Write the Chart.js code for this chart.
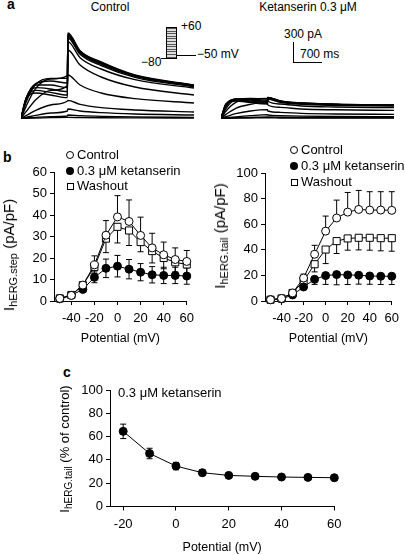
<!DOCTYPE html>
<html>
<head>
<meta charset="utf-8">
<script src="https://cdn.jsdelivr.net/npm/chart.js@4.4.0/dist/chart.umd.min.js"></script>
<style>
  body { margin: 0; background: #fff; }
  #fig { position: relative; width: 405px; height: 555px; overflow: hidden; font-family: "Liberation Sans", Arial, sans-serif; color: #000; }
  #fig canvas { position: absolute; }
  .t { position: absolute; white-space: nowrap; font-size: 12px; line-height: 14px; }
  .t13 { font-size: 13px; line-height: 14px; }
  .lbl { position: absolute; font-weight: bold; font-size: 14px; line-height: 16px; }
  .ytitle { position: absolute; white-space: nowrap; font-size: 13px; line-height: 14px; transform: translate(-50%, -50%) rotate(-90deg); }
  .ytitle sub { font-size: 10px; vertical-align: -3px; }
  .big { font-size: 15px; line-height: 16px; }
  .big sub { font-size: 11px; }
  .mk { position: absolute; box-sizing: border-box; }
  .line { position: absolute; background: #000; }
</style>
</head>
<body>
<div id="fig">
  <div class="lbl" style="left:7px;top:-4px">a</div>
  <div class="lbl" style="left:3px;top:149px">b</div>
  <div class="lbl" style="left:63px;top:364px">c</div>

  <div class="t" style="left:110px;top:0px;transform:translateX(-50%)">Control</div>
  <div class="t" style="left:308px;top:0px;transform:translateX(-50%)">Ketanserin 0.3 μM</div>

  <!-- voltage protocol inset -->
  <div class="t" style="left:181px;top:19px">+60</div>
  <div class="t" style="left:197px;top:47px">−50 mV</div>
  <div class="t" style="left:141px;top:55px">−80</div>
  <div style="position:absolute;left:166px;top:27px;width:11px;height:32px;box-sizing:border-box;border:1px solid #000;background:repeating-linear-gradient(to bottom,#555 0px,#555 1px,#ddd 1px,#ddd 2.6px)"></div>
  <div class="line" style="left:161px;top:58px;width:6px;height:1px"></div>
  <div class="line" style="left:176px;top:55px;width:20px;height:1px"></div>

  <!-- scale bar -->
  <div class="t" style="left:284px;top:27px">300 pA</div>
  <div class="t" style="left:300px;top:47px">700 ms</div>
  <div class="line" style="left:293px;top:42px;width:1px;height:21px"></div>
  <div class="line" style="left:293px;top:62px;width:29px;height:1px"></div>

  <canvas id="traceCtl" style="left:21px;top:25px" width="173" height="100"></canvas>
  <canvas id="traceKet" style="left:221px;top:25px" width="173" height="100"></canvas>

  <canvas id="stepChart" style="left:0px;top:140px" width="200" height="206"></canvas>
  <canvas id="tailChart" style="left:205px;top:140px" width="200" height="206"></canvas>
  <canvas id="ratioChart" style="left:40px;top:370px" width="320" height="185"></canvas>

  <div class="ytitle big" style="left:11px;top:255px">I<sub>hERG.step</sub> (pA/pF)</div>
  <div class="ytitle big" style="left:222px;top:236px">I<sub>hERG.tail</sub> (pA/pF)</div>
  <div class="ytitle" style="left:67px;top:449px">I<sub>hERG.tail</sub> (% of control)</div>

  <div id="legendStep"></div>
  <div id="legendTail"></div>
  <div class="t t13" style="left:118px;top:386px">0.3 μM ketanserin</div>
</div>

<script>
// ---- data ----
const seriesNames = ["Control", "0.3 μM ketanserin", "Washout"];
const potentials = [-50, -40, -30, -20, -10, 0, 10, 20, 30, 40, 50, 60];
const potentialTicks = [-40, -20, 0, 20, 40, 60];

// panel b, step current (pA/pF)
const stepControl = [1.2, 2.6, 7.4, 16.8, 30.6, 39.1, 37.0, 30.5, 24.7, 21.5, 19.3, 18.4];
const stepControlErr = [0, 0, 0, 4.2, 6.8, 9.9, 10.0, 8.5, 6.8, 5.9, 5.4, 5.1];
const stepKet = [1.0, 2.6, 5.4, 11.0, 15.2, 16.2, 14.8, 13.4, 12.2, 11.9, 11.9, 11.6];
const stepKetErr = [0, 0, 0.8, 2.5, 4.3, 5.0, 4.5, 4.0, 3.8, 3.8, 3.8, 3.8];
const stepWash = [1.2, 2.8, 7.4, 15.8, 29.0, 34.5, 32.8, 27.4, 23.2, 20.0, 18.0, 17.0];
const stepWashErr = [0, 0, 0, 3.0, 6.5, 7.5, 7.0, 4.5, 5.5, 5.0, 4.5, 4.5];
const stepTicks = [0, 10, 20, 30, 40, 50, 60];

// panel b, tail current (pA/pF)
const tailControl = [1.0, 2.0, 6.3, 18.0, 36.6, 54.7, 65.0, 69.6, 71.7, 71.2, 71.2, 71.0];
const tailControlErr = [0, 0, 0.5, 3.0, 7.0, 11.8, 14.0, 15.4, 14.9, 14.4, 14.4, 14.6];
const tailKet = [1.0, 1.6, 4.7, 11.0, 17.0, 19.9, 20.7, 20.4, 20.2, 19.6, 19.4, 19.4];
const tailKetErr = [0, 0, 0.5, 2.0, 4.0, 6.9, 8.0, 7.5, 7.0, 6.5, 6.5, 6.5];
const tailWash = [1.0, 2.0, 6.3, 15.7, 28.8, 40.3, 46.9, 49.0, 49.5, 49.5, 49.2, 49.2];
const tailWashErr = [0, 0, 0.5, 3.0, 6.0, 11.0, 9.7, 9.2, 9.5, 9.7, 9.9, 10.2];
const tailTicks = [0, 20, 40, 60, 80, 100];

// panel c, % of control
const ratioPotentials = [-20, -10, 0, 10, 20, 30, 40, 50, 60];
const ratioKet = [64.5, 45.5, 34.7, 29.0, 26.7, 25.9, 25.3, 25.0, 24.7];
const ratioKetErr = [6.2, 4.5, 3.2, 2.5, 1.8, 1.5, 1.4, 1.3, 1.3];
const ratioXTicks = [-20, 0, 20, 40, 60];
const ratioYTicks = [0, 20, 40, 60, 80, 100];

// panel a, current traces (pA) sampled at these times (ms), one row per test potential -50..+60 mV
const traceTimes = [0, 120, 350, 700, 1100, 1110, 1400, 1900, 2700, 4100];
const controlTraces = [
  [0, 2, 5, 10, 15, 15, 12, 9, 7, 5],
  [0, 5, 15, 25, 35, 50, 40, 30, 22, 15],
  [0, 15, 45, 80, 110, 140, 110, 85, 65, 50],
  [0, 40, 120, 200, 260, 270, 210, 160, 125, 95],
  [0, 100, 280, 420, 490, 650, 500, 380, 295, 230],
  [0, 180, 450, 590, 640, 1025, 800, 620, 470, 350],
  [0, 240, 510, 600, 600, 1150, 910, 740, 580, 455],
  [0, 280, 520, 560, 530, 1205, 960, 790, 615, 470],
  [0, 300, 500, 500, 460, 1230, 980, 810, 630, 480],
  [0, 300, 460, 440, 400, 1250, 995, 825, 640, 490],
  [0, 290, 420, 390, 350, 1265, 1005, 835, 645, 495],
  [0, 280, 380, 350, 310, 1280, 1015, 845, 650, 500]
];
const ketTraces = [
  [0, 1, 3, 5, 8, 8, 6, 5, 4, 3],
  [0, 3, 8, 14, 20, 20, 16, 13, 11, 10],
  [0, 8, 22, 40, 55, 50, 40, 33, 28, 25],
  [0, 25, 70, 110, 130, 110, 90, 75, 65, 60],
  [0, 60, 150, 210, 240, 200, 165, 140, 128, 120],
  [0, 110, 240, 290, 300, 260, 215, 185, 170, 160],
  [0, 150, 280, 300, 290, 290, 240, 210, 195, 185],
  [0, 180, 290, 290, 270, 300, 250, 220, 203, 192],
  [0, 200, 290, 275, 255, 305, 255, 225, 207, 196],
  [0, 210, 280, 260, 240, 310, 258, 228, 210, 198],
  [0, 215, 270, 245, 225, 312, 260, 230, 212, 199],
  [0, 220, 260, 235, 215, 315, 262, 232, 213, 200]
];

Chart.defaults.font.family = '"Liberation Sans", Arial, sans-serif';
Chart.defaults.font.size = 13;
Chart.defaults.color = "#000";
Chart.defaults.animation = false;

// error bars drawn under the markers, using the chart's own y scale
const errorBars = {
  id: "errorBars",
  beforeDatasetsDraw(chart) {
    const ctx = chart.ctx;
    const yScale = chart.scales.y;
    chart.data.datasets.forEach((ds, di) => {
      if (!ds.errUp && !ds.errDown) return;
      const meta = chart.getDatasetMeta(di);
      ctx.save();
      ctx.strokeStyle = "#000";
      ctx.lineWidth = 1;
      meta.data.forEach((pt, i) => {
        const v = ds.data[i].y;
        [[ds.errUp, 1], [ds.errDown, -1]].forEach(([arr, sign]) => {
          if (!arr || !arr[i]) return;
          const yEnd = yScale.getPixelForValue(v + sign * arr[i]);
          ctx.beginPath();
          ctx.moveTo(pt.x, pt.y);
          ctx.lineTo(pt.x, yEnd);
          ctx.moveTo(pt.x - 3, yEnd);
          ctx.lineTo(pt.x + 3, yEnd);
          ctx.stroke();
        });
      });
      ctx.restore();
    });
  }
};

function axis(min, max, tickValues, size, isX, title) {
  return {
    type: "linear",
    min: min,
    max: max,
    afterBuildTicks: s => { s.ticks = tickValues.map(v => ({ value: v })); },
    afterFit: s => { if (isX) s.height = size; else s.width = size; },
    grid: { display: true, drawOnChartArea: false, drawTicks: true, tickLength: 4, color: "#000", lineWidth: 1 },
    border: { display: true, color: "#000", width: 1 },
    ticks: { padding: isX ? 6 : 3, autoSkip: false, maxRotation: 0 },
    title: title ? { display: true, text: title, padding: 0, font: { size: 12.5 } } : { display: false }
  };
}

function series(xs, ys, style, errUp, errDown) {
  return Object.assign({
    data: xs.map((x, i) => ({ x: x, y: ys[i] })),
    showLine: true,
    clip: false,
    borderColor: "#000",
    borderWidth: 1,
    pointBorderColor: "#000",
    pointBorderWidth: 1,
    errUp: errUp,
    errDown: errDown
  }, style);
}

const openCircle = { pointStyle: "circle", pointRadius: 4, pointBackgroundColor: "#fff" };
const filledCircle = { pointStyle: "circle", pointRadius: 4, pointBackgroundColor: "#000" };
const openSquare = { pointStyle: "rect", pointRadius: 5, pointBackgroundColor: "#fff" };

function ivChart(id, datasets, yMin, yMax, yTicks, yWidth, pad) {
  return new Chart(document.getElementById(id), {
    type: "scatter",
    data: { datasets: datasets },
    options: {
      responsive: false,
      layout: { padding: pad },
      plugins: { legend: { display: false }, tooltip: { enabled: false } },
      scales: {
        x: axis(-55, 60, potentialTicks, 45, true, "Potential (mV)"),
        y: axis(yMin, yMax, yTicks, yWidth, false, null)
      }
    },
    plugins: [errorBars]
  });
}

ivChart("stepChart", [
  series(potentials, stepControl, openCircle, stepControlErr, null),
  series(potentials, stepKet, filledCircle, stepKetErr, stepKetErr),
  series(potentials, stepWash, openSquare, null, stepWashErr)
], 0, 60, stepTicks, 54, { left: 0, top: 32, right: 10.7, bottom: 0 });

ivChart("tailChart", [
  series(potentials, tailControl, openCircle, tailControlErr, null),
  series(potentials, tailKet, filledCircle, null, tailKetErr),
  series(potentials, tailWash, openSquare, null, tailWashErr)
], 0, 100, tailTicks, 60, { left: 0, top: 33.3, right: 5.7, bottom: 0 });

new Chart(document.getElementById("ratioChart"), {
  type: "scatter",
  data: { datasets: [series(ratioPotentials, ratioKet, filledCircle, ratioKetErr, ratioKetErr)] },
  options: {
    responsive: false,
    layout: { padding: { left: 0, top: 20, right: 25.7, bottom: 0 } },
    plugins: { legend: { display: false }, tooltip: { enabled: false } },
    scales: {
      x: axis(-25, 60, ratioXTicks, 48.5, true, "Potential (mV)"),
      y: axis(0, 100, ratioYTicks, 70, false, null)
    }
  },
  plugins: [errorBars]
});

// current traces, axes hidden
function traceChart(id, traces) {
  return new Chart(document.getElementById(id), {
    type: "line",
    data: {
      datasets: traces.map(tr => ({
        data: traceTimes.map((t, i) => ({ x: t, y: tr[i] })),
        borderColor: "#000",
        borderWidth: 1.4,
        pointRadius: 0,
        cubicInterpolationMode: "monotone",
        clip: false
      }))
    },
    options: {
      responsive: false,
      layout: { padding: 0 },
      plugins: { legend: { display: false }, tooltip: { enabled: false } },
      scales: {
        x: { type: "linear", min: 0, max: 4100, display: false },
        y: { type: "linear", min: -100, max: 1400, display: false }
      }
    }
  });
}
traceChart("traceCtl", controlTraces);
traceChart("traceKet", ketTraces);

// legends
function legend(el, x, rows) {
  const marks = [
    "width:8px;height:8px;border:1px solid #000;border-radius:50%;background:#fff",
    "width:8px;height:8px;border-radius:50%;background:#000",
    "width:7px;height:7px;border:1px solid #000;background:#fff"
  ];
  let html = "";
  seriesNames.forEach((name, i) => {
    const cy = rows[i];
    const s = i === 2 ? 7 : 8;
    html += '<div class="mk" style="left:' + (x - s / 2) + 'px;top:' + (cy - s / 2) + 'px;' + marks[i] + '"></div>';
    html += '<div class="t t13" style="left:' + (x + 7) + 'px;top:' + (cy - 7) + 'px">' + name + '</div>';
  });
  document.getElementById(el).innerHTML = html;
}
legend("legendStep", 70, [155, 171, 186]);
legend("legendTail", 294, [150, 166, 182]);
</script>
</body>
</html>
